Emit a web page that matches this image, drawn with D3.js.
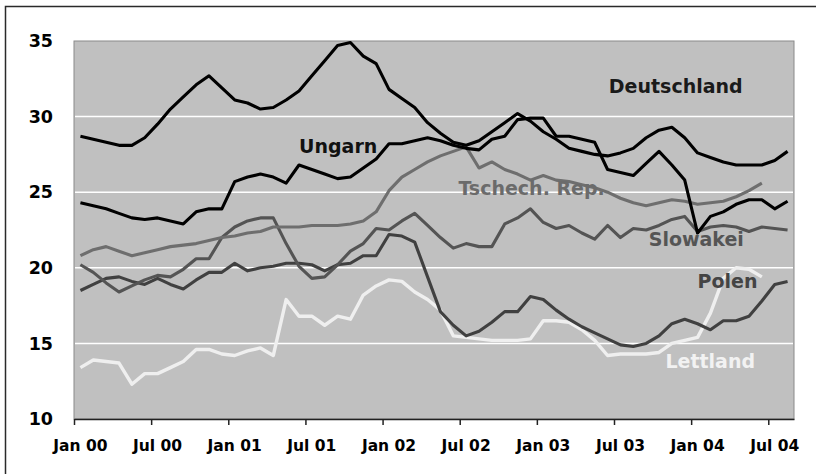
<!DOCTYPE html>
<html>
<head>
<meta charset="utf-8">
<script src="https://cdn.jsdelivr.net/npm/d3@7"></script>
<style>
  html, body { margin: 0; padding: 0; background: #fff; }
  svg { display: block; }
</style>
</head>
<body>
<svg id="chart" width="816" height="474"></svg>
<script>
// Monthly categories: Jan 2000 .. Aug 2004 (index 0..55)
const monthCount = 56;
const xTickMonths = [0, 6, 12, 18, 24, 30, 36, 42, 48, 54];
const xTickLabels = ["Jan 00", "Jul 00", "Jan 01", "Jul 01", "Jan 02", "Jul 02", "Jan 03", "Jul 03", "Jan 04", "Jul 04"];
const yTicks = [10, 15, 20, 25, 30, 35];

const deutschland = [28.7, 28.5, 28.3, 28.1, 28.1, 28.6, 29.5, 30.5, 31.3, 32.1,
  32.7, 31.9, 31.1, 30.9, 30.5, 30.6, 31.1, 31.7, 32.7, 33.7,
  34.7, 34.9, 34.0, 33.5, 31.8, 31.2, 30.6, 29.6, 28.9, 28.3,
  28.1, 28.4, 29.0, 29.6, 30.2, 29.7, 29.0, 28.5, 27.9, 27.7,
  27.5, 27.4, 27.6, 27.9, 28.6, 29.1, 29.3, 28.6, 27.6, 27.3,
  27.0, 26.8, 26.8, 26.8, 27.1, 27.7];

const ungarn = [24.3, 24.1, 23.9, 23.6, 23.3, 23.2, 23.3, 23.1, 22.9, 23.7,
  23.9, 23.9, 25.7, 26.0, 26.2, 26.0, 25.6, 26.8, 26.5, 26.2,
  25.9, 26.0, 26.6, 27.2, 28.2, 28.2, 28.4, 28.6, 28.4, 28.1,
  27.9, 27.8, 28.5, 28.7, 29.8, 29.9, 29.9, 28.7, 28.7, 28.5,
  28.3, 26.5, 26.3, 26.1, 26.9, 27.7, 26.8, 25.8, 22.3, 23.4,
  23.7, 24.2, 24.5, 24.5, 23.9, 24.4];

const tschechRep = [20.8, 21.2, 21.4, 21.1, 20.8, 21.0, 21.2, 21.4, 21.5, 21.6,
  21.8, 22.0, 22.1, 22.3, 22.4, 22.7, 22.7, 22.7, 22.8, 22.8,
  22.8, 22.9, 23.1, 23.7, 25.1, 26.0, 26.5, 27.0, 27.4, 27.7,
  28.0, 26.6, 27.0, 26.5, 26.2, 25.8, 26.1, 25.8, 25.7, 25.5,
  25.3, 25.0, 24.6, 24.3, 24.1, 24.3, 24.5, 24.4, 24.2, 24.3,
  24.4, 24.7, 25.1, 25.6];

const slowakei = [20.2, 19.7, 19.0, 18.4, 18.8, 19.2, 19.5, 19.4, 19.9, 20.6,
  20.6, 22.0, 22.7, 23.1, 23.3, 23.3, 21.6, 20.1, 19.3, 19.4,
  20.2, 21.1, 21.6, 22.6, 22.5, 23.1, 23.6, 22.8, 22.0, 21.3,
  21.6, 21.4, 21.4, 22.9, 23.3, 23.9, 23.0, 22.6, 22.8, 22.3,
  21.9, 22.8, 22.0, 22.6, 22.5, 22.8, 23.2, 23.4, 22.4, 22.7,
  22.8, 22.7, 22.4, 22.7, 22.6, 22.5];

const polen = [18.5, 18.9, 19.3, 19.4, 19.1, 18.9, 19.3, 18.9, 18.6, 19.2,
  19.7, 19.7, 20.3, 19.8, 20.0, 20.1, 20.3, 20.3, 20.2, 19.8,
  20.2, 20.3, 20.8, 20.8, 22.2, 22.1, 21.7, 19.4, 17.1, 16.2,
  15.5, 15.8, 16.4, 17.1, 17.1, 18.1, 17.9, 17.2, 16.6, 16.1,
  15.7, 15.3, 14.9, 14.8, 15.0, 15.5, 16.3, 16.6, 16.3, 15.9,
  16.5, 16.5, 16.8, 17.8, 18.9, 19.1];

const lettland = [13.4, 13.9, 13.8, 13.7, 12.3, 13.0, 13.0, 13.4, 13.8, 14.6,
  14.6, 14.3, 14.2, 14.5, 14.7, 14.2, 17.9, 16.8, 16.8, 16.2,
  16.8, 16.6, 18.2, 18.8, 19.2, 19.1, 18.4, 17.9, 17.2, 15.5,
  15.4, 15.3, 15.2, 15.2, 15.2, 15.3, 16.5, 16.5, 16.4, 15.9,
  15.2, 14.2, 14.3, 14.3, 14.3, 14.4, 15.0, 15.2, 15.4, 17.0,
  19.3, 20.0, 19.9, 19.4];

const seriesNames = ["Lettland", "Polen", "Slowakei", "Tschech. Rep.", "Ungarn", "Deutschland"];
const seriesValues = [lettland, polen, slowakei, tschechRep, ungarn, deutschland];
const seriesColors = ["#efefef", "#404040", "#545454", "#6e6e6e", "#000000", "#000000"];
const labelColors = ["#f2f2f2", "#444444", "#555555", "#6b6b6b", "#111111", "#1a1a1a"];
// label anchors in data space: [month index, value]
const labelAnchors = [[45.5, 13.4], [48.0, 18.64], [44.2, 21.44], [29.4, 24.8], [17.0, 27.6], [41.1, 31.57]];

const svg = d3.select("#chart");
const plot = { left: 74, right: 794, top: 41, bottom: 419 };

const x = d3.scaleLinear().domain([-0.5, monthCount - 0.5]).range([plot.left, plot.right]);
const y = d3.scaleLinear().domain([10, 35]).range([plot.bottom, plot.top]);

// outer frame
svg.append("rect")
  .attr("x", 5.5).attr("y", 6.5).attr("width", 830).attr("height", 480)
  .attr("fill", "none").attr("stroke", "#2a2a2a").attr("stroke-width", 1.5);

// plot background
svg.append("rect")
  .attr("x", plot.left).attr("y", plot.top)
  .attr("width", plot.right - plot.left).attr("height", plot.bottom - plot.top)
  .attr("fill", "#c0c0c0").attr("stroke", "#8a8a8a").attr("stroke-width", 1);

// gridlines
svg.append("g").selectAll("line")
  .data(yTicks.filter(d => d > 10 && d < 35))
  .join("line")
  .attr("x1", plot.left + 1).attr("x2", plot.right - 1)
  .attr("y1", d => y(d)).attr("y2", d => y(d))
  .attr("stroke", "#ffffff").attr("stroke-width", 1.5);

// y axis labels
const yAxis = d3.axisLeft(y).tickValues(yTicks).tickSize(0).tickPadding(21).tickFormat(d3.format("d"));
const gy = svg.append("g").attr("transform", `translate(${plot.left},0)`).call(yAxis);
gy.select(".domain").remove();
gy.selectAll("text")
  .attr("font-family", "DejaVu Sans, sans-serif")
  .attr("font-weight", "bold")
  .attr("font-size", 17.5)
  .attr("fill", "#000");

// x axis (ticks at category boundaries)
const xAxis = d3.axisBottom(x)
  .tickValues(xTickMonths.map(m => m - 0.5))
  .tickSize(6).tickSizeOuter(0).tickFormat("");
const gx = svg.append("g").attr("transform", `translate(0,${plot.bottom})`).call(xAxis);
gx.select(".domain").attr("stroke", "#222").attr("stroke-width", 1.5);
gx.selectAll(".tick line").attr("stroke", "#222").attr("stroke-width", 1.5);

// x labels centred on the category
svg.append("g").selectAll("text")
  .data(xTickMonths)
  .join("text")
  .attr("x", d => x(d))
  .attr("y", 451)
  .attr("text-anchor", "middle")
  .attr("font-family", "DejaVu Sans, sans-serif")
  .attr("font-weight", "bold")
  .attr("font-size", 15.5)
  .attr("fill", "#000")
  .text((d, i) => xTickLabels[i]);

// lines
const line = d3.line().x((d, i) => x(i)).y(d => y(d));
svg.append("g").selectAll("path")
  .data(seriesValues)
  .join("path")
  .attr("d", d => line(d))
  .attr("fill", "none")
  .attr("stroke", (d, i) => seriesColors[i])
  .attr("stroke-width", (d, i) => i === 0 ? 3.4 : 3.1)
  .attr("stroke-linejoin", "round")
  .attr("stroke-linecap", "butt");

// series labels (on top of lines)
svg.append("g").selectAll("text")
  .data(seriesNames)
  .join("text")
  .attr("x", (d, i) => x(labelAnchors[i][0]))
  .attr("y", (d, i) => y(labelAnchors[i][1]))
  .attr("font-family", "DejaVu Sans, sans-serif")
  .attr("font-weight", "bold")
  .attr("font-size", 19)
  .attr("fill", (d, i) => labelColors[i])
  .text(d => d);
</script>
</body>
</html>
